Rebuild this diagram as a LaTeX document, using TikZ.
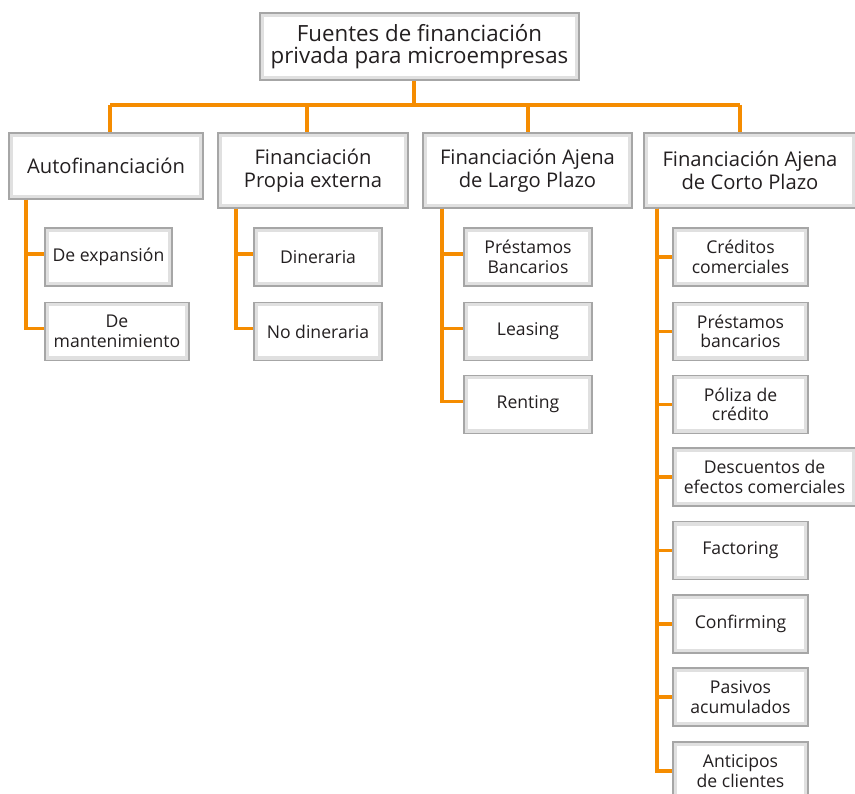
\documentclass[tikz,border=0pt]{standalone}
\usepackage{fontspec}
\setmainfont{Open Sans}
\definecolor{conncol}{RGB}{245,140,0}
\definecolor{txtcol}{RGB}{35,31,32}
\begin{document}
\begin{tikzpicture}[x=1pt,y=-1pt,
  box/.style={draw=black!35, line width=1.2pt, fill=white, align=center, inner sep=0pt,
    text=txtcol,
    path picture={\draw[black!12, line width=8pt] (path picture bounding box.south west) rectangle (path picture bounding box.north east);}},
  titlebox/.style={box, font=\fontsize{22.3}{22}\selectfont},
  bigbox/.style={box, font=\fontsize{20.2}{22.5}\selectfont},
  smallbox/.style={box, font=\fontsize{17.6}{19.5}\selectfont, minimum height=58pt},
  conn/.style={draw=conncol, line width=3.2pt}
]
\useasboundingbox (0,0) rectangle (855,794);
\clip (0,0) rectangle (855,794);

% top
\node[titlebox, minimum width=319pt, minimum height=67pt] (top) at (419.5,46.5) {Fuentes de financiación\\privada para microempresas};

% level 2
\node[bigbox, minimum width=194pt, minimum height=66pt] (auto) at (106,166) {Autofinanciación};
\node[bigbox, minimum width=190pt, minimum height=75pt] (propia) at (313,170.5) {Financiación\\Propia externa};
\node[bigbox, minimum width=209pt, minimum height=75pt] (largo) at (527.5,170.5) {Financiación Ajena\\de Largo Plazo};
\node[bigbox, minimum width=212pt, minimum height=75pt] (corto) at (750,170.5) {Financiación Ajena\\de Corto Plazo};

% children of auto
\node[smallbox, minimum width=127pt] (exp) at (108.5,257) {De expansión};
\node[smallbox, minimum width=144pt] (mant) at (117,331.5) {De\\mantenimiento};
% children of propia
\node[smallbox, minimum width=128pt] (din) at (318,257) {Dineraria};
\node[smallbox, minimum width=128pt] (nodin) at (318,331.5) {No dineraria};
% children of largo
\node[smallbox, minimum width=128pt] (presl) at (528,257) {Préstamos\\Bancarios};
\node[smallbox, minimum width=128pt] (leas) at (528,331.5) {Leasing};
\node[smallbox, minimum width=128pt] (rent) at (528,404.5) {Renting};
% children of corto
\node[smallbox, minimum width=135pt] (cred) at (740.5,257) {Créditos\\comerciales};
\node[smallbox, minimum width=135pt] (presc) at (740.5,331.5) {Préstamos\\bancarios};
\node[smallbox, minimum width=135pt] (pol) at (740.5,404.5) {Póliza de\\crédito};
\node[smallbox, minimum width=183pt] (desc) at (764.5,477) {Descuentos de\\efectos comerciales};
\node[smallbox, minimum width=135pt] (fact) at (740.5,550.5) {Factoring};
\node[smallbox, minimum width=135pt] (conf) at (740.5,624) {Confirming};
\node[smallbox, minimum width=135pt] (pas) at (740.5,697) {Pasivos\\acumulados};
\node[smallbox, minimum width=135pt] (anti) at (740.5,771) {Anticipos\\de clientes};

% level-1 connectors
\coordinate (b0) at (414,105);
\coordinate (t1) at (110,0);
\coordinate (t2) at (307,0);
\coordinate (t3) at (528,0);
\coordinate (t4) at (740,0);
\draw[conn] (b0 |- top.south) -- (b0);
\draw[conn] (t1 |- b0) -- (t4 |- b0);
\draw[conn] (t1 |- b0) -- (t1 |- auto.north);
\draw[conn] (t2 |- b0) -- (t2 |- propia.north);
\draw[conn] (t3 |- b0) -- (t3 |- largo.north);
\draw[conn] (t4 |- b0) -- (t4 |- corto.north);

% trunks
\coordinate (ta) at (26,0);
\coordinate (tb) at (236,0);
\coordinate (tc) at (442,0);
\coordinate (td) at (657,0);
\foreach \c in {exp,mant}{\draw[conn] (ta |- auto.south) |- ([yshift=3pt]\c.west);}
\foreach \c in {din,nodin}{\draw[conn] (tb |- propia.south) |- ([yshift=3pt]\c.west);}
\foreach \c in {presl,leas,rent}{\draw[conn] (tc |- largo.south) |- ([yshift=3pt]\c.west);}
\foreach \c in {cred,presc,pol,desc,fact,conf,pas,anti}{\draw[conn] (td |- corto.south) |- ([yshift=0pt]\c.west);}
\end{tikzpicture}
\end{document}
